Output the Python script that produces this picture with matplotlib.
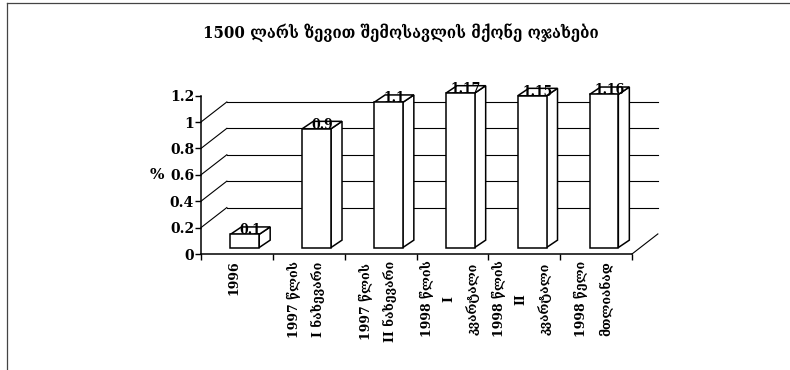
"""Households with income above 1500 lari, share by period, as a pseudo-3D bar chart."""

import matplotlib

matplotlib.use("Agg")
import matplotlib.pyplot as plt
from matplotlib.lines import Line2D
from matplotlib.patches import Polygon, Rectangle

TITLE = "1500 ლარს ზევით შემოსავლის მქონე ოჯახები"
PERIODS = [
    "1996",
    "1997 წლის\nI ნახევარი",
    "1997 წლის\nII ნახევარი",
    "1998 წლის\nI\nკვარტალი",
    "1998 წლის\nII\nკვარტალი",
    "1998 წელი\nმთლიანად",
]
SHARES = [0.1, 0.9, 1.1, 1.17, 1.15, 1.16]
Y_TICKS = [0, 0.2, 0.4, 0.6, 0.8, 1.0, 1.2]
Y_TICK_LABELS = ["0", "0.2", "0.4", "0.6", "0.8", "1", "1.2"]
GRID_LEVELS = [0.2, 0.4, 0.6, 0.8, 1.0]

FONT = ["DejaVu Serif", "DejaVu Sans"]

# depth offsets in data units (x: category slots, y: percent)
WALL_DX, WALL_DY = 0.36, 0.152
FLOOR_DX, FLOOR_DY = 0.11, 0.049
BAR_DX, BAR_DY = 0.153, 0.056
BAR_W = 0.40


def draw_walls(ax, n):
    for g in GRID_LEVELS:
        ax.plot([0, WALL_DX], [g, g + WALL_DY], color="black", lw=0.8, zorder=1, clip_on=False)
        ax.plot([WALL_DX, n + WALL_DX], [g + WALL_DY] * 2, color="black", lw=0.8, zorder=1, clip_on=False)
    ax.plot([n, n + WALL_DX], [0, WALL_DY], color="black", lw=0.8, zorder=1, clip_on=False)


def draw_bar(ax, i, v):
    x0 = i + 0.5 - BAR_W / 2 + FLOOR_DX
    y0 = FLOOR_DY
    x1 = x0 + BAR_W
    style = dict(facecolor="white", edgecolor="black", lw=1.1, zorder=3, clip_on=False)
    ax.add_patch(Polygon([(x1, y0), (x1 + BAR_DX, y0 + BAR_DY), (x1 + BAR_DX, y0 + v + BAR_DY), (x1, y0 + v)], **style))
    ax.add_patch(Polygon([(x0, y0 + v), (x1, y0 + v), (x1 + BAR_DX, y0 + v + BAR_DY), (x0 + BAR_DX, y0 + v + BAR_DY)], **style))
    ax.add_patch(Rectangle((x0, y0), BAR_W, v, **style))
    ax.text(x0 + BAR_W / 2 + 0.08, y0 + v, f"{v:g}", ha="center", va="baseline",
            fontsize=10, fontweight="bold", family=FONT, fontstretch="condensed", zorder=5)


def main():
    fig = plt.figure(figsize=(7.9, 3.7), dpi=100)
    W, H = 790, 370
    ax = fig.add_axes([201 / W, 1 - 254 / H, (632 - 201) / W, (254 - 95.6) / H])
    n = len(SHARES)
    ax.set_xlim(0, n)
    ax.set_ylim(0, 1.2)
    for side in ("top", "right"):
        ax.spines[side].set_visible(False)
    for side in ("left", "bottom"):
        ax.spines[side].set_linewidth(1.1)
    ax.set_xticks(range(n + 1))
    ax.set_xticklabels([])
    ax.set_yticks(Y_TICKS)
    ax.set_yticklabels(Y_TICK_LABELS, fontsize=10, fontweight="bold", family=FONT)
    ax.tick_params(direction="out", length=4, width=1.0, pad=1)

    draw_walls(ax, n)
    for i, v in enumerate(SHARES):
        draw_bar(ax, i, v)

    for i, label in enumerate(PERIODS):
        ax.text(i + 0.5 - 0.04, -0.05, label, rotation=90, ha="center", va="top",
                multialignment="center", fontsize=9, fontweight="bold", family=FONT,
                linespacing=1.9)

    ax.text(-0.62, 0.6, "%", ha="center", va="center", fontsize=11, fontweight="bold", family=FONT)
    fig.text(401 / W, 1 - 33 / H, TITLE, ha="center", va="center", fontsize=12,
             fontweight="bold", family=FONT, fontstretch="condensed")

    # page frame along the top and left edges
    fig.add_artist(Line2D([7 / W, 1], [1 - 3 / H] * 2, color="#444444", lw=0.9))
    fig.add_artist(Line2D([7 / W] * 2, [0, 1 - 3 / H], color="#444444", lw=0.9))

    fig.savefig("out.png", dpi=100)
    plt.close(fig)


if __name__ == "__main__":
    main()
